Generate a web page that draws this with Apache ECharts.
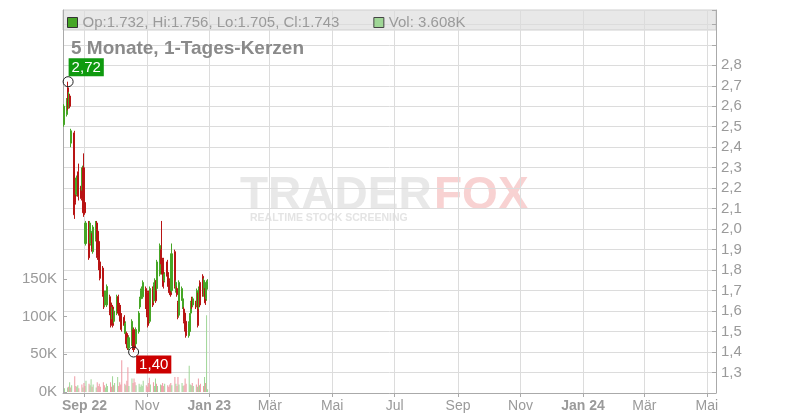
<!DOCTYPE html>
<html><head><meta charset="utf-8">
<script src="https://cdn.jsdelivr.net/npm/echarts@6/dist/echarts.min.js"></script>
<style>html,body{margin:0;padding:0;background:#fff}#c{width:800px;height:420px}</style>
</head><body><div id="c"></div>
<script>
const dates = [
 '2022-08-12','2022-08-15','2022-08-16','2022-08-17','2022-08-18','2022-08-19','2022-08-22','2022-08-23','2022-08-24','2022-08-25',
 '2022-08-26','2022-08-29','2022-08-30','2022-08-31','2022-09-01','2022-09-02','2022-09-05','2022-09-06','2022-09-07','2022-09-08',
 '2022-09-09','2022-09-12','2022-09-13','2022-09-14','2022-09-15','2022-09-16','2022-09-19','2022-09-20','2022-09-21','2022-09-22',
 '2022-09-23','2022-09-26','2022-09-27','2022-09-28','2022-09-29','2022-09-30','2022-10-03','2022-10-04','2022-10-05','2022-10-06',
 '2022-10-07','2022-10-10','2022-10-11','2022-10-12','2022-10-13','2022-10-14','2022-10-17','2022-10-18','2022-10-19','2022-10-20',
 '2022-10-21','2022-10-24','2022-10-25','2022-10-26','2022-10-27','2022-10-28','2022-10-31','2022-11-01','2022-11-02','2022-11-03',
 '2022-11-04','2022-11-07','2022-11-08','2022-11-09','2022-11-10','2022-11-11','2022-11-14','2022-11-15','2022-11-16','2022-11-17',
 '2022-11-18','2022-11-21','2022-11-22','2022-11-23','2022-11-24','2022-11-25','2022-11-28','2022-11-29','2022-11-30','2022-12-01',
 '2022-12-02','2022-12-05','2022-12-06','2022-12-07','2022-12-08','2022-12-09','2022-12-12','2022-12-13','2022-12-14','2022-12-15',
 '2022-12-16','2022-12-19','2022-12-20','2022-12-21','2022-12-22','2022-12-23','2022-12-26','2022-12-27','2022-12-28','2022-12-29',
 '2022-12-30'];

const opens = [
 2.51,2.56,2.69,2.60,2.65,2.42,2.47,2.22,2.17,2.19,
 2.28,2.21,2.19,2.30,2.13,1.93,2.03,1.94,1.93,1.97,
 1.89,1.95,2.03,1.99,1.94,1.84,1.81,1.69,1.63,1.65,
 1.63,1.67,1.64,1.57,1.62,1.55,1.59,1.67,1.63,1.62,
 1.58,1.57,1.49,1.49,1.48,1.42,1.44,1.50,1.51,1.46,
 1.44,1.50,1.62,1.66,1.68,1.67,1.71,1.68,1.69,1.69,
 1.55,1.71,1.65,1.67,1.74,1.71,1.78,1.90,1.85,1.85,
 1.75,1.84,1.78,1.75,1.74,1.70,1.89,1.70,1.71,1.64,
 1.58,1.66,1.62,1.61,1.59,1.55,1.48,1.50,1.59,1.66,
 1.63,1.64,1.63,1.68,1.62,1.74,1.77,1.68,1.71,1.66,
 1.732];
const closes = [
 2.60,2.63,2.59,2.66,2.60,2.48,2.07,2.13,2.25,2.26,
 2.16,2.15,2.30,2.08,2.08,2.03,1.86,2.03,1.99,1.90,
 2.01,2.03,1.87,1.86,1.81,1.76,1.68,1.62,1.69,1.69,
 1.72,1.59,1.53,1.61,1.53,1.60,1.67,1.59,1.58,1.55,
 1.51,1.53,1.54,1.44,1.42,1.47,1.55,1.42,1.42,1.42,
 1.51,1.59,1.66,1.70,1.71,1.74,1.62,1.58,1.53,1.57,
 1.71,1.63,1.73,1.75,1.65,1.84,1.92,1.83,1.78,1.72,
 1.78,1.77,1.72,1.69,1.68,1.88,1.72,1.74,1.68,1.57,
 1.74,1.71,1.66,1.55,1.51,1.48,1.54,1.58,1.64,1.62,
 1.66,1.62,1.70,1.53,1.71,1.63,1.68,1.75,1.64,1.74,
 1.743];
const lows = [
 2.50,2.55,2.58,2.59,2.59,2.40,2.05,2.12,2.16,2.18,
 2.14,2.14,2.18,2.06,2.07,1.92,1.85,1.93,1.92,1.89,
 1.88,1.94,1.86,1.85,1.80,1.75,1.67,1.61,1.62,1.64,
 1.62,1.58,1.52,1.56,1.52,1.54,1.58,1.58,1.57,1.54,
 1.50,1.52,1.48,1.43,1.41,1.41,1.43,1.41,1.40,1.41,
 1.43,1.49,1.61,1.65,1.67,1.66,1.61,1.57,1.52,1.56,
 1.54,1.62,1.64,1.66,1.64,1.70,1.77,1.82,1.77,1.71,
 1.74,1.76,1.71,1.68,1.67,1.69,1.71,1.69,1.67,1.56,
 1.57,1.65,1.61,1.54,1.50,1.47,1.47,1.49,1.58,1.61,
 1.62,1.61,1.62,1.52,1.61,1.62,1.67,1.67,1.63,1.65,
 1.705];
const highs = [
 2.61,2.64,2.72,2.67,2.66,2.49,2.48,2.23,2.26,2.27,
 2.32,2.22,2.31,2.37,2.14,2.04,2.04,2.04,2.00,1.98,
 2.02,2.04,2.04,2.00,1.95,1.85,1.82,1.70,1.70,1.70,
 1.73,1.68,1.65,1.62,1.63,1.61,1.68,1.68,1.64,1.63,
 1.59,1.58,1.55,1.50,1.49,1.48,1.56,1.51,1.52,1.47,
 1.52,1.60,1.67,1.71,1.72,1.75,1.72,1.69,1.70,1.70,
 1.72,1.72,1.74,1.76,1.75,1.85,1.93,2.04,1.86,1.86,
 1.79,1.85,1.79,1.76,1.75,1.93,1.90,1.75,1.72,1.65,
 1.75,1.72,1.67,1.62,1.60,1.56,1.55,1.59,1.65,1.67,
 1.67,1.65,1.71,1.69,1.72,1.75,1.78,1.76,1.72,1.75,
 1.756];
// volume in thousands
const volumesK = [
 5,6,7,13,6,9,21,8,7,9,
 5,10,6,12,8,15,11,9,17,7,
 10,6,13,8,11,7,13,9,6,11,
 8,13,7,21,9,12,20,8,13,10,
 42,11,9,15,33,8,18,12,18,13,
 9,11,7,10,8,15,9,7,12,19,
 10,13,8,18,11,8,10,9,12,8,
 11,9,7,10,12,9,20,11,8,20,
 10,12,8,9,18,11,35,10,9,12,
 8,10,7,18,9,11,8,20,12,102,
 3.608];

const monthNames = ['Jan','Feb','Mär','Apr','Mai','Jun','Jul','Aug','Sep','Okt','Nov','Dez'];
const priceLabelMin = 1.3, priceLabelMax = 2.8;
const volTicksK = [0, 50, 100, 150];
const titleText = '5 Monate, 1-Tages-Kerzen';

const UP = '#46a626', DOWN = '#b81414';
const VUP = '#9fd696', VDOWN = '#ee9aa4';
const GRID_L = 63, GRID_R = 84;
const DAY = 86400000;
const AXIS_MIN = '2022-08-11', AXIS_MAX = '2024-05-10';
const axisMinTime = new Date(AXIS_MIN + 'T00:00:00').getTime();
const last = dates.length - 1;
const fmt3 = v => v.toFixed(3);
const NARROW = '"Liberation Sans Narrow", "Arial Narrow", "Liberation Sans", Arial';

const chart = echarts.init(document.getElementById('c'));
chart.setOption({
  animation: false,
  backgroundColor: '#fff',
  textStyle: {fontFamily: 'Liberation Sans, Arial, sans-serif'},
  title: {
    text: titleText, left: 66, top: 34,
    textStyle: {fontSize: 19, fontWeight: 'bold', color: '#8a8a8a', fontFamily: 'Liberation Sans, Arial, sans-serif'}
  },
  legend: {
    left: 62, top: 10, itemWidth: 10, itemHeight: 10, itemGap: 34,
    textStyle: {fontSize: 15, color: '#9a9a9a'},
    selectedMode: false,
    data: [
      {name: 'Kurs', icon: 'rect', itemStyle: {color: UP, borderColor: '#333', borderWidth: 1}},
      {name: 'Vol', icon: 'rect', itemStyle: {color: VUP, borderColor: '#444', borderWidth: 1}}
    ],
    formatter: function (name) {
      if (name === 'Kurs') return 'Op:' + fmt3(opens[last]) + ', Hi:' + fmt3(highs[last]) + ', Lo:' + fmt3(lows[last]) + ', Cl:' + fmt3(closes[last]);
      return 'Vol: ' + volumesK[last].toFixed(3) + 'K';
    }
  },
  graphic: [
    {type: 'rect', z: -10, shape: {x: GRID_L, y: 10, width: 800 - GRID_L - GRID_R, height: 20}, style: {fill: '#e8e8e8', stroke: '#cfcfcf', lineWidth: 1}},
    {type: 'text', z: -5, left: 240, top: 173, style: {text: 'TRADER', fill: '#e8e8e8', font: 'bold 46px ' + NARROW}},
    {type: 'text', z: -5, left: 434, top: 173, style: {text: 'FOX', fill: '#f8d2d2', font: 'bold 46px ' + NARROW}},
    {type: 'text', z: -5, left: 250, top: 213, style: {text: 'REALTIME STOCK SCREENING', fill: '#e4e4e4', font: 'bold 10.5px "Liberation Sans", Arial'}}
  ],
  grid: [
    {left: GRID_L, right: GRID_R, top: 10, bottom: 27},
    {left: GRID_L, right: GRID_R, top: 279, bottom: 28}
  ],
  xAxis: [
    {
      type: 'time', gridIndex: 0, min: AXIS_MIN, max: AXIS_MAX,
      minInterval: 61 * DAY, maxInterval: 62 * DAY,
      axisLine: {lineStyle: {color: '#aaa'}},
      axisTick: {show: true, length: 4, lineStyle: {color: '#aaa'}},
      splitLine: {show: true, lineStyle: {color: '#dcdcdc'}},
      axisLabel: {
        margin: 6, color: '#9a9a9a', fontSize: 14, fontFamily: NARROW,
        formatter: function (v) {
          const d = new Date(v), m = d.getMonth(), y = String(d.getFullYear()).slice(2);
          if (m === 0 || v - axisMinTime < 62 * DAY) return '{b|' + monthNames[m] + ' ' + y + '}';
          return '{n|' + monthNames[m] + '}';
        },
        rich: {
          b: {fontWeight: 'bold', fontSize: 14, color: '#9a9a9a', fontFamily: NARROW},
          n: {fontSize: 14, color: '#9a9a9a', fontFamily: NARROW}
        }
      }
    },
    {
      type: 'time', gridIndex: 1, min: AXIS_MIN, max: AXIS_MAX, show: false
    }
  ],
  yAxis: [
    {
      type: 'value', gridIndex: 0, position: 'right', min: 1.2, max: 3.07, interval: 0.1,
      axisLine: {show: true, lineStyle: {color: '#aaa'}},
      axisTick: {show: true, inside: true, length: 4, lineStyle: {color: '#aaa'}},
      splitLine: {show: true, lineStyle: {color: '#dcdcdc'}},
      axisLabel: {
        margin: 5, color: '#9a9a9a', fontSize: 15,
        formatter: v => (v >= priceLabelMin - 1e-6 && v <= priceLabelMax + 1e-6) ? v.toFixed(1).replace('.', ',') : ''
      }
    },
    {
      type: 'value', gridIndex: 1, position: 'left', min: 0, max: volTicksK[volTicksK.length - 1] * 1000, interval: 50000,
      axisLine: {show: false},
      axisTick: {show: true, inside: true, length: 4, lineStyle: {color: '#aaa'}},
      splitLine: {show: false},
      axisLabel: {margin: 6, color: '#9a9a9a', fontSize: 15, formatter: v => (v / 1000) + 'K'}
    },
    {
      type: 'value', gridIndex: 0, position: 'left', min: 1.2, max: 3.07,
      axisLine: {show: true, lineStyle: {color: '#aaa'}},
      axisTick: {show: false}, axisLabel: {show: false}, splitLine: {show: false}
    }
  ],
  series: [
    {
      name: 'Kurs', type: 'candlestick', xAxisIndex: 0, yAxisIndex: 0,
      dimensions: [{name: 'date', type: 'time'}, 'open', 'close', 'lowest', 'highest'],
      encode: {x: 0, y: [1, 2, 3, 4]},
      data: dates.map((d, i) => [d, opens[i], closes[i], lows[i], highs[i]]),
      barWidth: 1.6,
      itemStyle: {color: UP, color0: DOWN, borderColor: UP, borderColor0: DOWN, borderWidth: 1},
      markPoint: {
        symbol: 'circle', symbolSize: 10,
        itemStyle: {color: 'rgba(0,0,0,0)', borderColor: '#222', borderWidth: 1},
        data: [
          {type: 'max', valueDim: 'highest',
           label: {show: true, position: [6, -18], color: '#fff', fontSize: 15, backgroundColor: '#0f9a0f', padding: [2, 3, 1, 3],
                   formatter: p => Number(p.value).toFixed(2).replace('.', ',')}},
          {type: 'min', valueDim: 'lowest',
           label: {show: true, position: [8, 9], color: '#fff', fontSize: 15, backgroundColor: '#cc0000', padding: [2, 3, 1, 3],
                   formatter: p => Number(p.value).toFixed(2).replace('.', ',')}}
        ]
      }
    },
    {
      name: 'Vol', type: 'bar', xAxisIndex: 1, yAxisIndex: 1, barWidth: 1,
      data: dates.map((d, i) => ({value: [d, volumesK[i] * 1000], itemStyle: {color: closes[i] >= opens[i] ? VUP : VDOWN}}))
    }
  ]
});
</script>
</body></html>
